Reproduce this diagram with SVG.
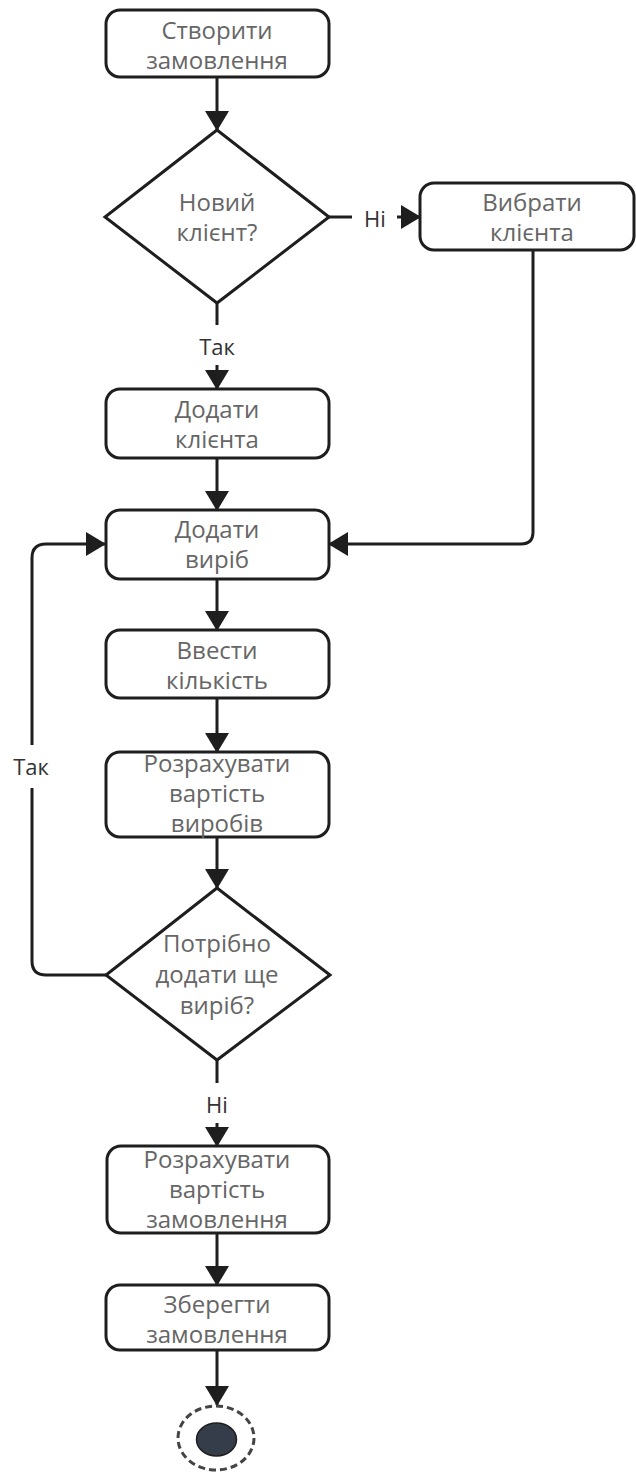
<svg xmlns="http://www.w3.org/2000/svg" width="636" height="1475" viewBox="0 0 636 1475">
  <style>
    .box { fill: #ffffff; stroke: #1e1e1e; stroke-width: 3; }
    .dec { fill: #ffffff; stroke: #1e1e1e; stroke-width: 3; stroke-linejoin: miter; }
    .lbl { font-family: "Open Sans", "Noto Sans", "DejaVu Sans", sans-serif; font-size: 24px; fill: #666666; text-anchor: middle; }
    .edge { fill: none; stroke: #1e1e1e; stroke-width: 3; }
    .elbl { font-family: "Open Sans", "Noto Sans", "DejaVu Sans", sans-serif; font-size: 22px; fill: #333333; text-anchor: middle; }
  </style>
  <defs>
    <marker id="arrow" viewBox="0 0 20 24" refX="19" refY="12" markerWidth="20" markerHeight="24" markerUnits="userSpaceOnUse" orient="auto">
      <path d="M0,0 L20,12 L0,24 z" fill="#1e1e1e"/>
    </marker>
  </defs>

  <rect width="636" height="1475" fill="#ffffff"/>

  <!-- connectors -->
  <g id="connectors">
    <path class="edge" d="M217,77 V130" marker-end="url(#arrow)"/>
    <path class="edge" d="M329,217 H352"/>
    <text class="elbl" x="375" y="227">Ні</text>
    <path class="edge" d="M397,217 H420" marker-end="url(#arrow)"/>
    <path class="edge" d="M217,303 V325"/>
    <text class="elbl" x="217" y="355">Так</text>
    <path class="edge" d="M217,365 V389" marker-end="url(#arrow)"/>
    <path class="edge" d="M217,458 V510" marker-end="url(#arrow)"/>
    <path class="edge" d="M533,250 V532 Q533,544 521,544 H329" marker-end="url(#arrow)"/>
    <path class="edge" d="M217,579 V630" marker-end="url(#arrow)"/>
    <path class="edge" d="M217,698 V752" marker-end="url(#arrow)"/>
    <path class="edge" d="M217,837 V888" marker-end="url(#arrow)"/>
    <path class="edge" d="M106,975 H46 Q32,975 32,961 V788"/>
    <text class="elbl" x="31" y="775">Так</text>
    <path class="edge" d="M32,745 V558 Q32,544 46,544 H105" marker-end="url(#arrow)"/>
    <path class="edge" d="M217,1060 V1083"/>
    <text class="elbl" x="217" y="1113">Ні</text>
    <path class="edge" d="M217,1123 V1146" marker-end="url(#arrow)"/>
    <path class="edge" d="M217,1233 V1285" marker-end="url(#arrow)"/>
    <path class="edge" d="M217,1350 V1405" marker-end="url(#arrow)"/>
  </g>

  <g id="create-order">
    <rect class="box" x="106" y="10" width="223" height="67" rx="14"/>
    <text class="lbl" x="217" y="39">Створити</text>
    <text class="lbl" x="217" y="69">замовлення</text>
  </g>

  <g id="new-client">
    <polygon class="dec" points="217,130 329,217 217,303 105,217"/>
    <text class="lbl" x="217" y="211">Новий</text>
    <text class="lbl" x="217" y="241">клієнт?</text>
  </g>

  <g id="select-client">
    <rect class="box" x="420" y="183" width="214" height="67" rx="14"/>
    <text class="lbl" x="532" y="211">Вибрати</text>
    <text class="lbl" x="532" y="241">клієнта</text>
  </g>

  <g id="add-client">
    <rect class="box" x="106" y="389" width="223" height="69" rx="14"/>
    <text class="lbl" x="217" y="418">Додати</text>
    <text class="lbl" x="217" y="448">клієнта</text>
  </g>

  <g id="add-item">
    <rect class="box" x="106" y="510" width="223" height="69" rx="14"/>
    <text class="lbl" x="217" y="538">Додати</text>
    <text class="lbl" x="217" y="568">виріб</text>
  </g>

  <g id="enter-qty">
    <rect class="box" x="106" y="630" width="223" height="68" rx="14"/>
    <text class="lbl" x="217" y="659">Ввести</text>
    <text class="lbl" x="217" y="689">кількість</text>
  </g>

  <g id="calc-items">
    <rect class="box" x="106" y="752" width="223" height="85" rx="14"/>
    <text class="lbl" x="217" y="772">Розрахувати</text>
    <text class="lbl" x="217" y="802">вартість</text>
    <text class="lbl" x="217" y="832">виробів</text>
  </g>

  <g id="more-items">
    <polygon class="dec" points="217,888 330,975 217,1060 106,975"/>
    <text class="lbl" x="217" y="952">Потрібно</text>
    <text class="lbl" x="217" y="983">додати ще</text>
    <text class="lbl" x="217" y="1014">виріб?</text>
  </g>

  <g id="calc-order">
    <rect class="box" x="107" y="1146" width="222" height="87" rx="14"/>
    <text class="lbl" x="217" y="1168">Розрахувати</text>
    <text class="lbl" x="217" y="1198">вартість</text>
    <text class="lbl" x="217" y="1228">замовлення</text>
  </g>

  <g id="save-order">
    <rect class="box" x="106" y="1285" width="223" height="65" rx="14"/>
    <text class="lbl" x="217" y="1313">Зберегти</text>
    <text class="lbl" x="217" y="1343">замовлення</text>
  </g>

  <g id="final-node">
    <ellipse cx="216" cy="1438" rx="38" ry="32" fill="#ffffff" stroke="#444444" stroke-width="3" stroke-dasharray="7 4"/>
    <ellipse cx="216.5" cy="1439.5" rx="20" ry="16.5" fill="#363d4a" stroke="#1e1e1e" stroke-width="1.5"/>
  </g>
</svg>
